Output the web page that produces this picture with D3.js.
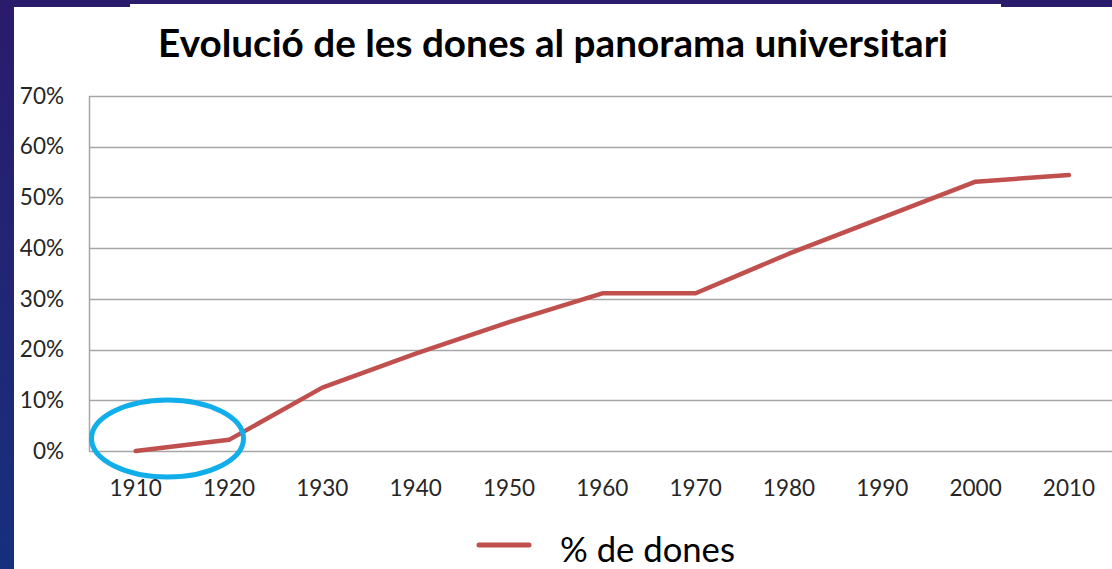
<!DOCTYPE html>
<html>
<head>
<meta charset="utf-8">
<script src="https://cdn.jsdelivr.net/npm/d3@7/dist/d3.min.js"></script>
<style>
  html, body { margin: 0; padding: 0; background: #1d2672; }
  svg { display: block; }
  text { font-family: Lato, "Open Sans", "Liberation Sans", sans-serif; }
</style>
</head>
<body>
<svg id="chart" width="1112" height="569"></svg>
<script>
// Decades on the horizontal axis
const years = ["1910", "1920", "1930", "1940", "1950", "1960", "1970", "1980", "1990", "2000", "2010"];
// Share of women among university students (%)
const womenShare = [0, 2.2, 12.5, 19.2, 25.4, 31.1, 31.1, 38.9, 46, 53.1, 54.4];
// Percentage ticks on the vertical axis
const yTicks = [0, 10, 20, 30, 40, 50, 60, 70];

const titleText = "Evolució de les dones al panorama universitari";
const legendLabel = "% de dones";

const W = 1112, H = 569;
const svg = d3.select("#chart");

// Slide backdrop: dark blue/purple gradient
const defs = svg.append("defs");
const grad = defs.append("linearGradient").attr("id", "bg").attr("x1", 0).attr("y1", 0).attr("x2", 0).attr("y2", 1);
grad.append("stop").attr("offset", "0%").attr("stop-color", "#2b1b6c");
grad.append("stop").attr("offset", "100%").attr("stop-color", "#16307e");
svg.append("rect").attr("width", W).attr("height", H).attr("fill", "url(#bg)");

// White chart panel (its top edge steps slightly)
svg.append("path")
  .attr("d", "M14,7 H130 V4 H1001 V7 H1112 V569 H14 Z")
  .attr("fill", "#ffffff");

const plot = { left: 89, right: 1115.6, top: 96, bottom: 451 };

const x = d3.scaleBand().domain(years).range([plot.left, plot.right]).padding(0);
const y = d3.scaleLinear().domain([0, 70]).range([plot.bottom, plot.top]);

// Horizontal gridlines
svg.append("g")
  .selectAll("line")
  .data(yTicks)
  .join("line")
  .attr("x1", plot.left)
  .attr("x2", W)
  .attr("y1", d => Math.round(y(d)) + 0.5)
  .attr("y2", d => Math.round(y(d)) + 0.5)
  .attr("stroke", "#a6a6a6")
  .attr("stroke-width", 1.5);

// Vertical axis line
svg.append("line")
  .attr("x1", plot.left + 0.5).attr("x2", plot.left + 0.5)
  .attr("y1", plot.top).attr("y2", plot.bottom + 1)
  .attr("stroke", "#a6a6a6").attr("stroke-width", 1.5);

const labelSize = 22.5;

// Y axis labels
const yAxis = d3.axisLeft(y).tickValues(yTicks).tickFormat(d => d + "%").tickSize(0).tickPadding(25);
const gy = svg.append("g").attr("transform", `translate(${plot.left},0)`).call(yAxis);
gy.select(".domain").remove();
gy.selectAll("text")
  .attr("font-size", labelSize)
  .attr("fill", "#262626")
  .style("font-family", "Lato, 'Open Sans', sans-serif");

// X axis labels
const xAxis = d3.axisBottom(x).tickSize(0).tickPadding(29);
const gx = svg.append("g").attr("transform", `translate(0,${plot.bottom})`).call(xAxis);
gx.select(".domain").remove();
gx.selectAll("text")
  .attr("font-size", labelSize)
  .attr("fill", "#262626")
  .style("font-family", "Lato, 'Open Sans', sans-serif");

// Data line
const line = d3.line()
  .x((d, i) => x(years[i]) + x.bandwidth() / 2)
  .y(d => y(d));

svg.append("path")
  .datum(womenShare)
  .attr("d", line)
  .attr("fill", "none")
  .attr("stroke", "#c0504d")
  .attr("stroke-width", 4.5)
  .attr("stroke-linejoin", "round")
  .attr("stroke-linecap", "round");

// Highlight around the earliest decades
svg.append("ellipse")
  .attr("cx", 167.5)
  .attr("cy", 438.5)
  .attr("rx", 76)
  .attr("ry", 38.5)
  .attr("fill", "none")
  .attr("stroke", "#12aeea")
  .attr("stroke-width", 5);

// Title
const title = svg.append("text")
  .attr("x", 553)
  .attr("y", 57)
  .attr("text-anchor", "middle")
  .attr("font-size", 30)
  .attr("font-weight", "bold")
  .attr("fill", "#000")
  .text(titleText);
const tw = title.node().getComputedTextLength();
title.attr("font-size", 30 * 790 / tw);

// Legend
svg.append("line")
  .attr("x1", 479).attr("x2", 529)
  .attr("y1", 545).attr("y2", 545)
  .attr("stroke", "#c0504d")
  .attr("stroke-width", 5)
  .attr("stroke-linecap", "round");
const leg = svg.append("text")
  .attr("x", 560)
  .attr("y", 562)
  .attr("font-size", 30)
  .attr("fill", "#000")
  .text(legendLabel);
const lw = leg.node().getComputedTextLength();
leg.attr("font-size", 30 * 175 / lw);
</script>
</body>
</html>
